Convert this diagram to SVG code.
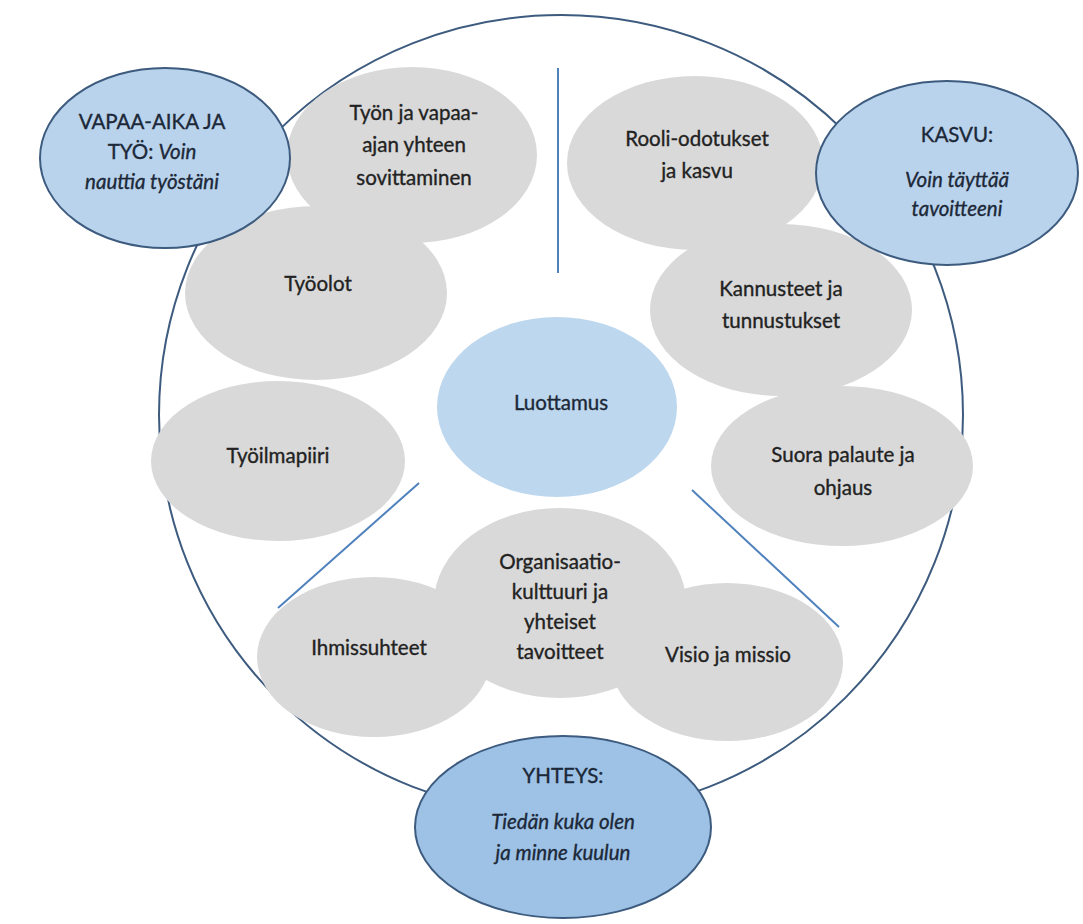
<svg xmlns="http://www.w3.org/2000/svg" width="1083" height="924" viewBox="0 0 1083 924">
<style>
.bg{fill:#ffffff}
.outer{fill:none;stroke:#3d5b7e;stroke-width:2}
.sep{stroke:#4f81bd;stroke-width:2;fill:none}
.gray{fill:#d9d9d9}
.blue{fill:#b9d3ec;stroke:#3d5b7e;stroke-width:2}
.blue2{fill:#9dc2e6;stroke:#3d5b7e;stroke-width:2}
.core{fill:#bdd7ee}
text{font-family:Lato,"Open Sans",sans-serif;font-size:20.5px;text-anchor:middle;stroke-width:0.35}
.t{fill:#222222;stroke:#222222}
.tb{fill:#1c2838;stroke:#1c2838}
.i{font-style:italic}
</style>
<rect class="bg" x="0" y="0" width="1083" height="924"/>
<ellipse class="outer" cx="561" cy="415" rx="402" ry="400"/>
<g id="connectors">
<line class="sep" x1="558" y1="68" x2="558" y2="273"/>
<line class="sep" x1="419" y1="483" x2="278" y2="608"/>
<line class="sep" x1="692" y1="490" x2="839" y2="627"/>
</g>
<g id="tyon-ja-vapaa-ajan">
<ellipse class="gray" cx="412" cy="155" rx="125" ry="88"/>
<text class="t" x="414" y="120">Työn ja vapaa-</text>
<text class="t" x="414" y="152">ajan yhteen</text>
<text class="t" x="414" y="185">sovittaminen</text>
</g>
<g id="tyoolot">
<ellipse class="gray" cx="316" cy="293" rx="131" ry="87"/>
<text class="t" x="318" y="291">Työolot</text>
</g>
<g id="tyoilmapiiri">
<ellipse class="gray" cx="278" cy="461" rx="127" ry="80"/>
<text class="t" x="278" y="463">Työilmapiiri</text>
</g>
<g id="rooli">
<ellipse class="gray" cx="695" cy="163" rx="128" ry="87"/>
<text class="t" x="697" y="146">Rooli-odotukset</text>
<text class="t" x="697" y="178">ja kasvu</text>
</g>
<g id="kannusteet">
<ellipse class="gray" cx="781" cy="310" rx="131" ry="86"/>
<text class="t" x="781" y="296">Kannusteet ja</text>
<text class="t" x="781" y="328">tunnustukset</text>
</g>
<g id="suora-palaute">
<ellipse class="gray" cx="842" cy="466" rx="131" ry="80"/>
<text class="t" x="843" y="462">Suora palaute ja</text>
<text class="t" x="843" y="495">ohjaus</text>
</g>
<g id="organisaatio">
<ellipse class="gray" cx="560" cy="603" rx="126" ry="95"/>
<text class="t" x="560" y="569">Organisaatio-</text>
<text class="t" x="560" y="599">kulttuuri ja</text>
<text class="t" x="560" y="629">yhteiset</text>
<text class="t" x="560" y="659">tavoitteet</text>
</g>
<g id="ihmissuhteet">
<ellipse class="gray" cx="374" cy="657" rx="117" ry="80"/>
<text class="t" x="369" y="655">Ihmissuhteet</text>
</g>
<g id="visio">
<ellipse class="gray" cx="727" cy="662" rx="116" ry="79"/>
<text class="t" x="728" y="662">Visio ja missio</text>
</g>
<g id="luottamus">
<ellipse class="core" cx="557" cy="407" rx="120" ry="90"/>
<text class="tb" x="561" y="410">Luottamus</text>
</g>
<g id="vapaa-aika">
<ellipse class="blue" cx="165" cy="158" rx="125" ry="90"/>
<text class="tb" x="152" y="129">VAPAA-AIKA JA</text>
<text class="tb" x="152" y="159">TYÖ: <tspan class="i">Voin</tspan></text>
<text class="tb i" x="152" y="189">nauttia työstäni</text>
</g>
<g id="kasvu">
<ellipse class="blue" cx="947" cy="173" rx="131" ry="92"/>
<text class="tb" x="957" y="142">KASVU:</text>
<text class="tb i" x="957" y="187">Voin täyttää</text>
<text class="tb i" x="957" y="216">tavoitteeni</text>
</g>
<g id="yhteys">
<ellipse class="blue2" cx="563" cy="827" rx="148" ry="91"/>
<text class="tb" x="563" y="783">YHTEYS:</text>
<text class="tb i" x="563" y="829">Tiedän kuka olen</text>
<text class="tb i" x="563" y="860">ja minne kuulun</text>
</g>
</svg>
